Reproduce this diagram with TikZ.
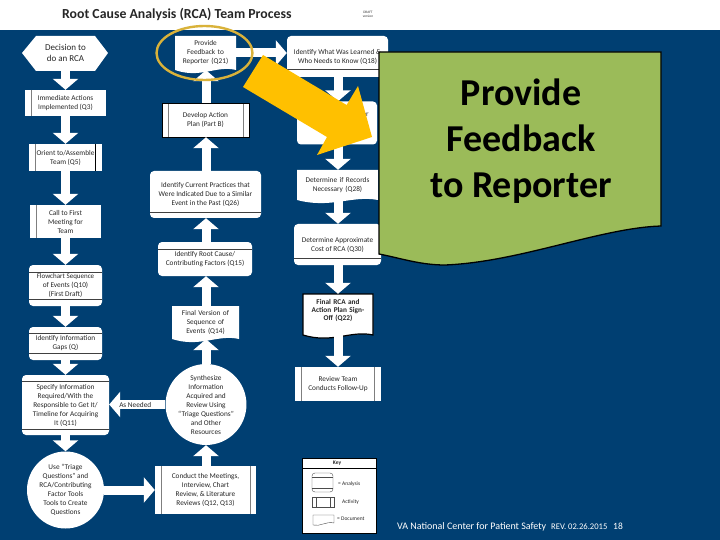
\documentclass[tikz,border=0pt]{standalone}
\usepackage{fontspec}
\setmainfont{Carlito}
\usetikzlibrary{arrows.meta}
\definecolor{navy}{HTML}{003F72}
\definecolor{ringgold}{HTML}{D9B23A}
\definecolor{signyellow}{HTML}{FFC000}
\definecolor{leaf}{HTML}{9BBB59}
\definecolor{barg}{HTML}{7F7F7F}
\tikzset{
 flowbox/.style={fill=white,inner sep=0pt,align=center,font=\fontsize{7.3}{9}\selectfont,text=black!85},
 blockarrow/.style={draw=white,line width=9pt,-{Triangle[length=11pt,width=25pt,fill=white]}},
 bar/.style={draw=barg,line width=1pt},
 inner line/.style={draw=black!75,line width=0.8pt},
 key line/.style={draw=black!70,line width=0.4pt},
 keytext/.style={inner sep=0pt,font=\fontsize{5.5}{6}\selectfont,text=black!85,anchor=west},
 foot/.style={inner sep=0pt,anchor=base west,text=white},
}
\newcommand{\activitybox}[6]{\node[flowbox,minimum width={(#4-#2)*1pt},minimum height={(#5-#3)*1pt}] (#1) at ({(#2+#4)/2},{(#3+#5)/2}) {#6};}
\newcommand{\analysisbox}[8]{\node[flowbox,rounded corners=4pt,minimum width={(#4-#2)*1pt},minimum height={(#5-#3)*1pt}] (#1) at ({(#2+#4)/2},{(#3+#5)/2}) {#8};
 \draw[inner line] (#2,#6) -- (#4,#6);
 \draw[inner line] (#2,#7) -- (#4,#7);}
\newcommand{\docbox}[7][]{%
 \path[fill=white,#1] (#3,#4) -- (#5,#4) -- (#5,{#6-6})
  .. controls ({#3+0.68*(#5-#3)},{#6-11}) and ({#3+0.42*(#5-#3)},{#6+3}) .. (#3,{#6-6}) -- cycle;
 \node[flowbox,fill=none,text width={(#5-#3)*1pt},minimum height={(#6-#4-6)*1pt}] (#2) at ({(#3+#5)/2},{(#4+#6-6)/2}) {#7};}
\begin{document}
\begin{tikzpicture}[x=1pt,y=-1pt]
\useasboundingbox (0,0) rectangle (720,540);
\fill[navy] (0,30) rectangle (720,540);
\node[inner sep=0pt,anchor=base west,font=\bfseries\fontsize{13.8}{14}\selectfont,text=black!85] (title) at (62,19) {Root Cause Analysis (RCA) Team Process};
\node[inner sep=0pt,align=center,font=\fontsize{3.5}{4}\selectfont,text=black!80] (tiny) at (368,14) {DRAFT\\version};

% left column
\fill[white] (22,53) -- (36,36) -- (95,36) -- (108,53) -- (95,71) -- (36,71) -- cycle;
\node[flowbox,fill=none,font=\fontsize{9}{11.5}\selectfont] (decision) at (65.5,53) {Decision to\\do an RCA};
\coordinate (decisionout) at (65.5,71);
\activitybox{immediate}{25}{90}{106}{116}{Immediate Actions\\Implemented (Q3)}
\draw[bar] (31,90) -- (31,116);
\activitybox{assemble}{29}{144}{102}{171}{Orient to/Assemble\\Team (Q5)}
\draw[bar] (35,144) -- (35,171);
\draw[bar,draw=black] (95,144) -- (95,171);
\activitybox{meeting}{30}{205}{101}{238}{Call to First\\Meeting for\\Team}
\draw[bar] (36,205) -- (36,238);
\analysisbox{sequence}{29}{265}{102}{306}{272}{299}{\fontsize{7}{7.8}\selectfont Flowchart Sequence\\of Events (Q10)\\(First Draft)}
\analysisbox{gaps}{29}{327}{102}{360}{333}{353}{Identify Information\\Gaps (Q)}
\analysisbox{specify}{22}{375}{109}{435}{381}{429}{Specify Information\\Required/With the\\Responsible to Get It/\\Timeline for Acquiring\\It (Q11)}
\node[flowbox,circle,minimum size=77pt] (triage) at (65.5,490) {Use ``Triage\\Questions'' and\\RCA/Contributing\\Factor Tools\\Tools to Create\\Questions};

% middle column
\activitybox{conduct}{155}{466}{256}{514}{Conduct the Meetings,\\Interview, Chart\\Review, \& Literature\\Reviews (Q12, Q13)}
\draw[bar] (161,466) -- (161,514);
\draw[bar] (250,466) -- (250,514);
\node[flowbox,circle,minimum size=76pt] (synth) at (206,404.5) {Synthesize\\Information\\Acquired and\\Review Using\\``Triage Questions''\\and Other\\Resources};
\docbox{finalseq}{172}{306}{239}{345}{Final Version of\\Sequence of\\Events (Q14)}
\analysisbox{rootcause}{158}{242}{252}{276}{249}{249}{Identify Root Cause/\\Contributing Factors (Q15)}
\analysisbox{current}{150}{171}{261}{218}{212}{212}{Identify Current Practices that\\Were Indicated Due to a Similar\\Event in the Past (Q26)}
\activitybox{plan}{162}{103}{249}{137}{Develop Action\\Plan (Part B)}
\draw[bar] (168,103) -- (168,137);
\draw[bar] (243,103) -- (243,137);
\draw[black,line width=0.7pt] (162,103) rectangle (249,137);
\docbox{provide}{175}{36}{236}{76}{Provide\\Feedback to\\Reporter (Q21)}

% right column
\analysisbox{lessons}{287}{36}{388}{77}{69}{69}{Identify What Was Learned \&\\Who Needs to Know (Q18)}
\node[flowbox,rounded corners=4pt,minimum width=80pt,minimum height=43pt] (measure) at (337,123) {Identify Measures for\\\phantom{x}\\Number\hspace{32pt}};
\docbox{records}{297}{170}{378}{206}{Determine if Records\\Necessary (Q28)}
\analysisbox{cost}{294}{224}{381}{265}{258}{258}{Determine Approximate\\Cost of RCA (Q30)}
\docbox[draw=black,line width=1.2pt]{signoff}{303}{294}{373}{341}{\fontsize{7.3}{7.8}\selectfont\textbf{Final RCA and}\\\textbf{Action Plan Sign-}\\\textbf{Off (Q22)}\\\phantom{x}}
\activitybox{followup}{295}{367}{381}{401}{Review Team\\Conducts Follow-Up}
\draw[bar] (301,367) -- (301,401);
\draw[bar] (374,367) -- (374,401);

% connectors
\draw[blockarrow] (decisionout) -- (decisionout |- immediate.north);
\draw[blockarrow] (immediate.south -| decisionout) -- (decisionout |- assemble.north);
\draw[blockarrow] (assemble.south -| decisionout) -- (decisionout |- meeting.north);
\draw[blockarrow] (meeting.south -| decisionout) -- (decisionout |- sequence.north);
\draw[blockarrow] (sequence.south -| decisionout) -- (decisionout |- gaps.north);
\draw[blockarrow] (gaps.south -| decisionout) -- (decisionout |- specify.north);
\draw[blockarrow] (specify.south -| decisionout) -- (decisionout |- triage.north);
\draw[blockarrow] (triage.east) -- (conduct.west |- triage.east);
\draw[blockarrow] (conduct.north -| synth) -- (synth.south);
\draw[blockarrow] (synth.west) -- (specify.east |- synth.west) node[midway,inner sep=0pt,font=\fontsize{7.3}{8}\selectfont,text=black!85,xshift=-2pt] (asneeded) {As Needed};
\draw[blockarrow] (synth.north) -- (synth |- finalseq.south);
\draw[blockarrow] (finalseq.north -| synth) -- (synth |- rootcause.south);
\draw[blockarrow] (rootcause.north -| synth) -- (synth |- current.south);
\draw[blockarrow] (current.north -| synth) -- (synth |- plan.south);
\draw[blockarrow] (plan.north -| synth) -- (synth |- provide.south);
\draw[blockarrow] (provide.east) -- (lessons.west |- provide.east);
\coordinate (rightx) at (338,0);
\draw[blockarrow] (lessons.south -| rightx) -- (rightx |- measure.north);
\draw[blockarrow] (measure.south -| rightx) -- (rightx |- records.north);
\draw[blockarrow] (records.south -| rightx) -- (rightx |- cost.north);
\draw[blockarrow] (cost.south -| rightx) -- (rightx |- signoff.north);
\draw[blockarrow] (signoff.south -| rightx) -- (rightx |- followup.north);

% key
\node[draw=black,fill=white,line width=0.8pt,minimum width=74pt,minimum height=75pt,inner sep=0pt] (keybox) at (339,495.5) {};
\draw[black,line width=0.6pt] (302,468) -- (376,468);
\node[inner sep=0pt,font=\bfseries\fontsize{5.5}{6}\selectfont,text=black!85] (keytitle) at (337,463) {Key};
\draw[key line,rounded corners=3pt] (312,473) rectangle (333,492);
\draw[key line] (312,477) -- (333,477) (312,488) -- (333,488);
\node[keytext] (k1) at (338,484) {= Analysis};
\draw[key line] (312,497) rectangle (334,507);
\draw[key line] (316,497) -- (316,507) (330,497) -- (330,507);
\node[keytext] (k2) at (342,502) {Activity};
\draw[key line] (334,523) -- (334,515) -- (313,515) -- (313,525) .. controls (320,527) and (326,521) .. (334,523);
\node[keytext] (k3) at (337,519) {= Document};

% footer
\node[foot,font=\fontsize{10}{12}\selectfont] (footer) at (397,529) {VA National Center for Patient Safety};
\node[foot,font=\fontsize{8.6}{10}\selectfont] (rev) at (551,529) {REV. 02.26.2015};
\node[foot,font=\fontsize{9.5}{10}\selectfont] (page) at (613,529) {18};

% highlight
\draw[ringgold,line width=2.4pt] (204.5,53) ellipse [x radius=48, y radius=27];
\fill[signyellow] (263,55) -- (346.6,105) -- (358,86) -- (372,137) -- (317,155) -- (327,137) -- (243,87) -- cycle;

% call-out
\path[fill=leaf,draw=black,line width=1.3pt] (379,52) -- (661,52) -- (661,226)
 .. controls (600,228) and (520,262) .. (445,265)
 .. controls (420,265) and (400,258) .. (379,254) -- cycle;
\node[inner sep=0pt,align=center,font=\bfseries\fontsize{38}{46}\selectfont,text=black] (callout) at (521,141) {Provide\\Feedback\\to Reporter};
\end{tikzpicture}
\end{document}
